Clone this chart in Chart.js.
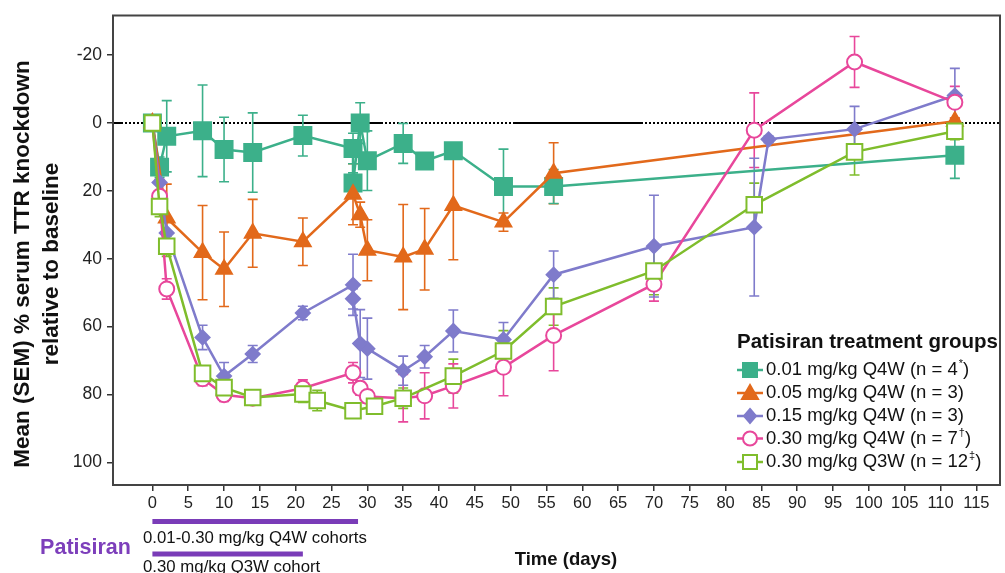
<!DOCTYPE html>
<html>
<head>
<meta charset="utf-8">
<script src="https://cdn.jsdelivr.net/npm/chart.js@4.4.1/dist/chart.umd.min.js"></script>
<style>
    html, body { margin: 0; padding: 0; background: #fff; }
    #wrap { width: 1005px; height: 573px; position: relative; }
</style>
</head>
<body>
<div id="wrap"><canvas id="chart" width="1005" height="573" style="width:1005px;height:573px"></canvas></div>
<script>
// Axis ticks
const xTicks = [0, 5, 10, 15, 20, 25, 30, 35, 40, 45, 50, 55, 60, 65, 70, 75, 80, 85, 90, 95, 100, 105, 110, 115];
const yTicks = [-20, 0, 20, 40, 60, 80, 100];

// 0.01 mg/kg Q4W
const daysA = [0, 1, 2, 7, 10, 14, 21, 28, 28, 29, 30, 35, 38, 42, 49, 56, 112];
const valsA = [0, 13, 3.9, 2.3, 7.8, 8.7, 3.7, 7.5, 17.7, 0, 11.1, 6, 11.2, 8.2, 18.7, 18.7, 9.5];
const semA  = [0, 3, 10.5, 13.5, 9.5, 11.7, 6, 4.5, 3, 6, 8.8, 5.9, 2, 2, 11, 5, 6.8];

// 0.05 mg/kg Q4W
const daysB = [0, 2, 7, 10, 14, 21, 28, 29, 30, 35, 38, 42, 49, 56, 112];
const valsB = [0, 28, 38.2, 43.1, 32.5, 35, 21, 27, 37.5, 39.5, 37.2, 24.3, 29.2, 14.8, -0.5];
const semB  = [0, 10, 13.9, 11, 10, 7, 9, 3.7, 9, 15.5, 12, 16, 2.7, 9, 1];

// 0.15 mg/kg Q4W
const daysC = [0, 1, 2, 7, 10, 14, 21, 28, 28, 29, 30, 35, 38, 42, 49, 56, 70, 84, 86, 98, 112];
const valsC = [0, 17.5, 32.4, 63.2, 74.6, 68.1, 56, 47.7, 51.8, 65, 66.5, 73, 68.9, 61.3, 63.8, 44.7, 36.3, 30.7, 4.8, 1.8, -8.1];
const semC  = [0, 3, 4, 3.6, 4, 2.5, 2, 9, 3, 10, 9, 4.3, 3.3, 6.2, 5, 7, 15, 20.3, 1, 6.7, 8];

// 0.30 mg/kg Q4W
const daysD = [0, 1, 2, 7, 10, 14, 21, 28, 29, 30, 35, 38, 42, 49, 56, 70, 84, 98, 112];
const valsD = [0, 21.6, 48.9, 75.4, 80.1, 81.1, 78.2, 73.6, 78.2, 80.6, 81.1, 80.4, 77.5, 72, 62.6, 47.5, 2.1, -18, -6.1];
const semD  = [0, 5, 3, 2, 2, 2, 2.5, 3, 2, 2, 7, 6.8, 6.5, 8.4, 10.4, 5, 11, 7.5, 4.7];

// 0.30 mg/kg Q3W
const daysE = [0, 1, 2, 7, 10, 14, 21, 23, 28, 31, 35, 42, 49, 56, 70, 84, 98, 112];
const valsE = [0, 24.6, 36.3, 73.8, 78, 80.9, 79.9, 81.8, 84.8, 83.5, 81.1, 74.6, 67.2, 54.1, 43.6, 24.1, 8.5, 2.4];
const semE  = [0, 3, 3, 2, 2, 2, 2.5, 3, 2, 2, 3, 5, 6, 5.5, 7, 6.4, 6.8, 2.5];

// Dosing periods (days)
const dosingQ4W = [0, 28.7];
const dosingQ3W = [0, 21];

const FONT = '"Liberation Sans", Arial, sans-serif';

function pts(days, vals) {
    return days.map((d, i) => ({ x: d, y: vals[i] }));
}

const groups = [
    { label: '0.01 mg/kg Q4W (n = 4', sup: '*', days: daysA, vals: valsA, sem: semA, color: '#3cb08a', style: 'rect', radius: 12, filled: true, order: 5 },
    { label: '0.05 mg/kg Q4W (n = 3', sup: '', days: daysB, vals: valsB, sem: semB, color: '#e2691b', style: 'triangle', radius: 9, filled: true, order: 4 },
    { label: '0.15 mg/kg Q4W (n = 3', sup: '', days: daysC, vals: valsC, sem: semC, color: '#7f7bcb', style: 'rectRot', radius: 7, filled: true, order: 3 },
    { label: '0.30 mg/kg Q4W (n = 7', sup: '\u2020', days: daysD, vals: valsD, sem: semD, color: '#e8479b', style: 'circle', radius: 7.5, filled: false, order: 2 },
    { label: '0.30 mg/kg Q3W (n = 12', sup: '\u2021', days: daysE, vals: valsE, sem: semE, color: '#7fbd2c', style: 'rect', radius: 11, filled: false, order: 1 }
];

const datasets = groups.map(g => ({
    label: g.label,
    data: pts(g.days, g.vals),
    borderColor: g.color,
    backgroundColor: g.filled ? g.color : '#ffffff',
    borderWidth: 2.5,
    pointStyle: g.style,
    pointRadius: g.radius,
    pointBorderWidth: 2,
    pointBorderColor: g.color,
    pointBackgroundColor: g.filled ? g.color : '#ffffff',
    tension: 0,
    order: g.order
}));

// Error bars + zero line, drawn under the series
const errorBars = {
    id: 'errorBars',
    beforeDatasetsDraw(chart) {
        const ctx = chart.ctx;
        const xs = chart.scales.x, ys = chart.scales.y;
        const area = chart.chartArea;

        // zero line
        ctx.save();
        ctx.strokeStyle = '#000';
        ctx.lineWidth = 2;
        const dash = [130, 2];
        for (let i = 0; i < 32; i++) dash.push(2, 2);
        ctx.setLineDash(dash);
        ctx.lineDashOffset = 120;
        const y0 = ys.getPixelForValue(0);
        ctx.beginPath();
        ctx.moveTo(area.left, y0);
        ctx.lineTo(area.right, y0);
        ctx.stroke();
        ctx.restore();

        ctx.save();
        ctx.lineWidth = 1.6;
        groups.slice().reverse().forEach(g => {
            ctx.strokeStyle = g.color;
            g.days.forEach((d, i) => {
                const e = g.sem[i];
                if (!e) return;
                const x = xs.getPixelForValue(d);
                const yt = ys.getPixelForValue(g.vals[i] - e);
                const yb = ys.getPixelForValue(g.vals[i] + e);
                ctx.beginPath();
                ctx.moveTo(x, yt); ctx.lineTo(x, yb);
                ctx.moveTo(x - 5, yt); ctx.lineTo(x + 5, yt);
                ctx.moveTo(x - 5, yb); ctx.lineTo(x + 5, yb);
                ctx.stroke();
            });
        });
        ctx.restore();
    }
};

function drawMarker(ctx, g, x, y) {
    ctx.save();
    ctx.lineWidth = 2;
    ctx.strokeStyle = g.color;
    ctx.fillStyle = g.filled ? g.color : '#ffffff';
    ctx.beginPath();
    if (g.style === 'rect') {
        ctx.rect(x - 7, y - 7, 14, 14);
    } else if (g.style === 'triangle') {
        ctx.moveTo(x, y - 8);
        ctx.lineTo(x + 8, y + 6);
        ctx.lineTo(x - 8, y + 6);
        ctx.closePath();
    } else if (g.style === 'rectRot') {
        ctx.moveTo(x, y - 7);
        ctx.lineTo(x + 6, y);
        ctx.lineTo(x, y + 7);
        ctx.lineTo(x - 6, y);
        ctx.closePath();
    } else {
        ctx.arc(x, y, 7, 0, Math.PI * 2);
    }
    ctx.fill();
    ctx.stroke();
    ctx.restore();
}

// Frame, legend, titles and dosing annotation
const decorations = {
    id: 'decorations',
    afterDraw(chart) {
        const ctx = chart.ctx;
        const area = chart.chartArea;
        const xs = chart.scales.x;

        // frame
        ctx.save();
        ctx.strokeStyle = '#444';
        ctx.lineWidth = 2;
        ctx.strokeRect(area.left, area.top, area.right - area.left, area.bottom - area.top);
        ctx.restore();

        // legend
        ctx.save();
        ctx.fillStyle = '#111';
        ctx.textBaseline = 'middle';
        ctx.textAlign = 'left';
        ctx.font = 'bold 20.5px ' + FONT;
        ctx.fillText('Patisiran treatment groups', 737, 342);
        const rows = [370, 393, 416, 438.5, 462];
        groups.forEach((g, i) => {
            const y = rows[i];
            ctx.strokeStyle = g.color;
            ctx.lineWidth = 2.5;
            ctx.beginPath();
            ctx.moveTo(737, y); ctx.lineTo(763, y);
            ctx.stroke();
            drawMarker(ctx, g, 750, y);
            ctx.fillStyle = '#111';
            ctx.font = '18.5px ' + FONT;
            let tx = 766;
            ctx.fillText(g.label, tx, y);
            tx += ctx.measureText(g.label).width;
            if (g.sup) {
                ctx.font = '11px ' + FONT;
                ctx.fillText(g.sup, tx + 1, y - 6);
                tx += ctx.measureText(g.sup).width + 1;
                ctx.font = '18.5px ' + FONT;
            }
            ctx.fillText(')', tx, y);
        });
        ctx.restore();

        // y title
        ctx.save();
        ctx.fillStyle = '#111';
        ctx.font = 'bold 22.5px ' + FONT;
        ctx.textAlign = 'center';
        ctx.textBaseline = 'middle';
        ctx.translate(23, 264);
        ctx.rotate(-Math.PI / 2);
        ctx.fillText('Mean (SEM) % serum TTR knockdown', 0, 0);
        ctx.fillText('relative to baseline', 0, 29);
        ctx.restore();

        // dosing bars
        ctx.save();
        ctx.strokeStyle = '#7a3cb8';
        ctx.lineWidth = 5;
        ctx.beginPath();
        ctx.moveTo(xs.getPixelForValue(dosingQ4W[0]), 521.5);
        ctx.lineTo(xs.getPixelForValue(dosingQ4W[1]), 521.5);
        ctx.moveTo(xs.getPixelForValue(dosingQ3W[0]), 554);
        ctx.lineTo(xs.getPixelForValue(dosingQ3W[1]), 554);
        ctx.stroke();

        ctx.fillStyle = '#111';
        ctx.textBaseline = 'middle';
        ctx.textAlign = 'left';
        ctx.font = '16.8px ' + FONT;
        ctx.fillText('0.01-0.30 mg/kg Q4W cohorts', 143, 538.5);
        ctx.fillText('0.30 mg/kg Q3W cohort', 143, 567);

        ctx.fillStyle = '#7d3fbb';
        ctx.font = 'bold 21.5px ' + FONT;
        ctx.textAlign = 'center';
        ctx.fillText('Patisiran', 85.5, 548);

        ctx.fillStyle = '#111';
        ctx.font = 'bold 18.5px ' + FONT;
        ctx.fillText('Time (days)', 566, 560);
        ctx.restore();
    }
};

const chart = new Chart(document.getElementById('chart'), {
    type: 'line',
    data: { datasets },
    options: {
        responsive: false,
        animation: false,
        devicePixelRatio: 1,
        layout: { autoPadding: false, padding: { left: 0, top: 12, right: 5, bottom: 0 } },
        plugins: { legend: { display: false }, tooltip: { enabled: false } },
        scales: {
            x: {
                type: 'linear',
                min: -5.5,
                max: 118.3,
                afterBuildTicks: (s) => { s.ticks = xTicks.map(v => ({ value: v })); },
                afterFit: (s) => { s.height = 88; },
                grid: { drawOnChartArea: false, drawTicks: true, tickLength: 6, color: '#333', lineWidth: 1.5 },
                border: { display: true, color: '#444', width: 2 },
                ticks: { color: '#222', font: { family: FONT, size: 16.5 }, padding: 3, maxRotation: 0, autoSkip: false }
            },
            y: {
                type: 'linear',
                reverse: true,
                min: -31.7,
                max: 106.7,
                afterBuildTicks: (s) => { s.ticks = yTicks.map(v => ({ value: v })); },
                afterFit: (s) => { s.width = 113; },
                grid: { drawOnChartArea: false, drawTicks: true, tickLength: 6, color: '#333', lineWidth: 1.5 },
                border: { display: true, color: '#444', width: 2 },
                ticks: { color: '#222', font: { family: FONT, size: 17.5 }, padding: 5 }
            }
        }
    },
    plugins: [errorBars, decorations]
});
</script>
</body>
</html>
